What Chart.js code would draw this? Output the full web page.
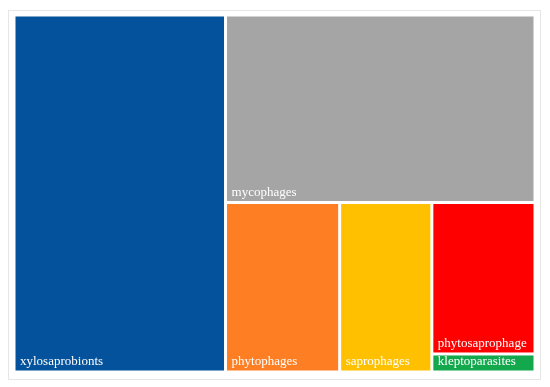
<!DOCTYPE html>
<html lang="en">
<head>
    <meta charset="UTF-8">
    <title>Feeding guilds treemap</title>
    <script src="https://cdn.jsdelivr.net/npm/chart.js"></script>
    <style>
        body {
            margin: 0;
            background: #fff;
        }
        #wrap {
            position: relative;
            width: 550px;
            height: 387px;
        }
        #frame {
            position: absolute;
            left: 8px;
            top: 10px;
            width: 531px;
            height: 368px;
            border: 1px solid #e6e6e6;
        }
        #chart {
            position: absolute;
            left: 0;
            top: 0;
        }
    </style>
</head>
<body>
    <div id="wrap">
        <div id="frame"></div>
        <canvas id="chart" width="550" height="387"></canvas>
    </div>

    <script>
        const categories = ['xylosaprobionts', 'mycophages', 'phytophages', 'saprophages', 'phytosaprophage', 'kleptoparasites'];
        const shares = [40.6, 31.2, 10.4, 8.4, 8.4, 1.0];
        const colors = ['#03529b', '#a5a5a5', '#fd7e23', '#ffc000', '#ff0000', '#13a84c'];

        // worst aspect ratio of a row laid along a side
        function worst(row, side) {
            const s = row.reduce((a, b) => a + b, 0);
            const mx = Math.max(...row), mn = Math.min(...row);
            return Math.max(side * side * mx / (s * s), (s * s) / (side * side * mn));
        }

        function squarify(vals, rect) {
            const total = vals.reduce((a, b) => a + b, 0);
            const areas = vals.map(v => v * rect.w * rect.h / total);
            const out = [];
            const r = { ...rect };
            let i = 0;
            while (i < areas.length) {
                const side = Math.min(r.w, r.h);
                const row = [areas[i]];
                let j = i + 1;
                while (j < areas.length && worst(row.concat(areas[j]), side) <= worst(row, side)) {
                    row.push(areas[j]);
                    j++;
                }
                const s = row.reduce((a, b) => a + b, 0);
                if (r.w >= r.h) {
                    const cw = s / r.h;
                    let y = r.y;
                    row.forEach(a => { const hh = a / cw; out.push({ x: r.x, y, w: cw, h: hh }); y += hh; });
                    r.x += cw; r.w -= cw;
                } else {
                    const rh = s / r.w;
                    let x = r.x;
                    row.forEach(a => { const ww = a / rh; out.push({ x, y: r.y, w: ww, h: rh }); x += ww; });
                    r.y += rh; r.h -= rh;
                }
                i = j;
            }
            return out;
        }

        const treemapPlugin = {
            id: 'treemap',
            afterDatasetsDraw(chart) {
                const ctx = chart.ctx;
                const xs = chart.scales.x, ys = chart.scales.y;
                const W = xs.right - xs.left, H = ys.bottom - ys.top;
                const cells = squarify(shares, { x: 0, y: 0, w: W, h: H });
                ctx.save();
                cells.forEach((c, k) => {
                    // convert to data units (0..100) then back through the scales
                    const x0 = xs.getPixelForValue(c.x / W * 100);
                    const x1 = xs.getPixelForValue((c.x + c.w) / W * 100);
                    const y0 = ys.getPixelForValue(100 - c.y / H * 100);
                    const y1 = ys.getPixelForValue(100 - (c.y + c.h) / H * 100);
                    const g = 1.5;
                    ctx.fillStyle = colors[k];
                    ctx.fillRect(x0 + g, y0 + g, x1 - x0 - 2 * g, y1 - y0 - 2 * g);
                    ctx.fillStyle = '#ffffff';
                    ctx.font = '13px "Liberation Serif", serif';
                    ctx.textBaseline = 'alphabetic';
                    ctx.fillText(categories[k], x0 + 6, y1 - 7);
                });
                ctx.restore();
            }
        };

        new Chart(document.getElementById('chart'), {
            type: 'scatter',
            data: { datasets: [{ data: [] }] },
            options: {
                responsive: false,
                animation: false,
                layout: { padding: { left: 14, top: 15, right: 15, bottom: 15 } },
                plugins: { legend: { display: false }, tooltip: { enabled: false } },
                scales: {
                    x: { type: 'linear', min: 0, max: 100, display: false },
                    y: { type: 'linear', min: 0, max: 100, display: false }
                }
            },
            plugins: [treemapPlugin]
        });
    </script>
</body>
</html>
